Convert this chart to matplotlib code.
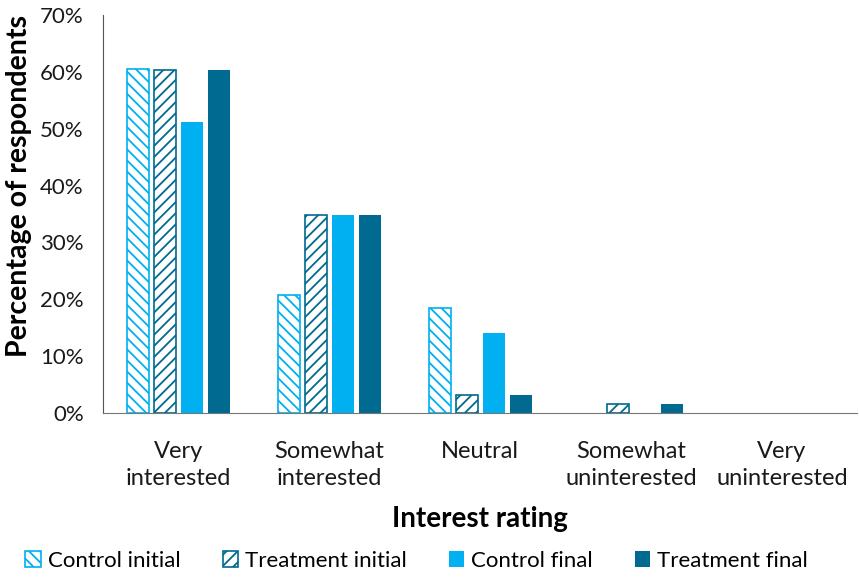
import numpy as np
import matplotlib.pyplot as plt
from matplotlib.ticker import PercentFormatter

plt.rcParams['font.family'] = ['Lato', 'DejaVu Sans']
plt.rcParams['hatch.linewidth'] = 1.3

# Data
categories = ['Very\ninterested', 'Somewhat\ninterested', 'Neutral',
              'Somewhat\nuninterested', 'Very\nuninterested']
control_initial = [60.5, 20.8, 18.5, 0.0, 0.0]
treatment_initial = [60.3, 34.9, 3.2, 1.6, 0.0]
control_final = [51.2, 34.9, 14.0, 0.0, 0.0]
treatment_final = [60.4, 34.9, 3.2, 1.6, 0.0]

light = '#00B0F0'
dark = '#006A90'

fig = plt.figure(figsize=(8.59, 5.79), dpi=100)
ax = fig.add_axes([0.12, 0.287, 0.878, 0.687])

x = np.arange(len(categories))
w = 0.146
step = 0.179

# zero bars get no outline so nothing shows on the axis
def edges(vals):
    return [1.2 if v > 0 else 0 for v in vals]

ax.bar(x - 1.5 * step, control_initial, w, facecolor='white', edgecolor=light,
       hatch='\\\\\\', linewidth=edges(control_initial), label='Control initial')
ax.bar(x - 0.5 * step, treatment_initial, w, facecolor='white', edgecolor=dark,
       hatch='///', linewidth=edges(treatment_initial), label='Treatment initial')
ax.bar(x + 0.5 * step, control_final, w, color=light, label='Control final')
ax.bar(x + 1.5 * step, treatment_final, w, color=dark, label='Treatment final')

ax.set_xlim(-0.5, len(categories) - 0.5)
ax.set_ylim(0, 70)
ax.set_yticks(range(0, 71, 10))
ax.yaxis.set_major_formatter(PercentFormatter(decimals=0))
ax.set_xticks(x)
ax.set_xticklabels(categories, fontsize=17, color='#1a1a1a', linespacing=1.4)
ax.tick_params(axis='y', labelsize=16, length=0, pad=14, colors='#1a1a1a')
ax.tick_params(axis='x', length=0, pad=20)

for s in ['top', 'right']:
    ax.spines[s].set_visible(False)
ax.spines['left'].set_color('#555555')
ax.spines['bottom'].set_color('#777777')

ax.set_ylabel('Percentage of respondents', fontsize=20.5, fontweight='bold')
ax.yaxis.set_label_coords(-0.094, 0.57)
ax.set_xlabel('Interest rating', fontsize=20, fontweight='bold', labelpad=12)

fig.legend(loc='lower center', bbox_to_anchor=(0.485, -0.02), ncol=4, frameon=False,
           fontsize=16, handlelength=0.7, handleheight=0.7, handletextpad=0.3,
           columnspacing=1.9)

fig.savefig('out.png', dpi=100)
